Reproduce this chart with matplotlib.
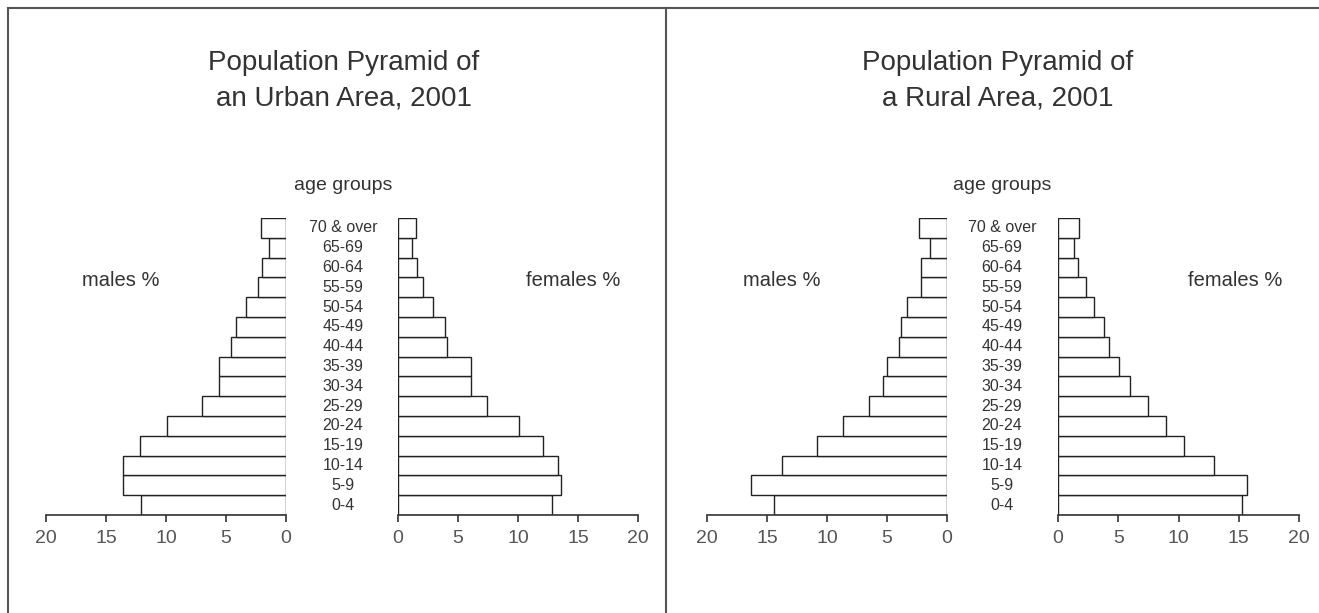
import matplotlib
matplotlib.use("Agg")
import matplotlib.pyplot as plt
from matplotlib.lines import Line2D

plt.rcParams['font.family'] = ['Liberation Sans', 'DejaVu Sans']

age_groups = ["0-4", "5-9", "10-14", "15-19", "20-24", "25-29", "30-34", "35-39",
              "40-44", "45-49", "50-54", "55-59", "60-64", "65-69", "70 & over"]

urban_males = [12.1, 13.6, 13.6, 12.2, 9.9, 7.0, 5.6, 5.6, 4.6, 4.2, 3.3, 2.3, 2.0, 1.4, 2.1]
urban_females = [12.8, 13.6, 13.3, 12.1, 10.1, 7.4, 6.1, 6.1, 4.1, 3.9, 2.9, 2.1, 1.6, 1.2, 1.5]
rural_males = [14.4, 16.3, 13.75, 10.8, 8.7, 6.5, 5.3, 5.0, 4.0, 3.8, 3.3, 2.2, 2.2, 1.45, 2.3]
rural_females = [15.3, 15.65, 12.95, 10.45, 8.95, 7.5, 5.95, 5.1, 4.2, 3.8, 2.96, 2.35, 1.7, 1.3, 1.72]

ticks = [0, 5, 10, 15, 20]
titles = ["Population Pyramid of\nan Urban Area, 2001",
          "Population Pyramid of\na Rural Area, 2001"]

W, H = 1319, 613
fig = plt.figure(figsize=(W / 100, H / 100), dpi=100)
TXT = '#333333'


def px_axes(x0, x1, y_top, y_bot):
    return fig.add_axes([x0 / W, (H - y_bot) / H, (x1 - x0) / W, (y_bot - y_top) / H])


def ftext(x, y, s, **kw):
    return fig.text(x / W, (H - y) / H, s, ha='center', va='center', color=TXT, **kw)


def pyramid_side(ax, values, left):
    ypos = list(range(len(values)))
    ax.barh(ypos, values, height=1.0, color='white', edgecolor='#222222', linewidth=1.0)
    ax.set_ylim(-0.5, len(values) - 0.5)
    if left:
        ax.set_xlim(20, 0)
    else:
        ax.set_xlim(0, 20)
    ax.set_xticks(ticks)
    ax.set_xticklabels([str(t) for t in ticks])
    ax.set_yticks([])
    for s in ['top', 'left', 'right']:
        ax.spines[s].set_visible(False)
    ax.spines['bottom'].set_color('#333333')
    ax.spines['bottom'].set_linewidth(1.2)
    ax.tick_params(axis='x', direction='out', length=5, width=1.2, color='#333333',
                   labelsize=14, labelcolor='#555555', pad=6)
    ax.patch.set_alpha(0)


panels = [
    (urban_males, urban_females, 46, 286, 398, 638, 343, 121, 573),
    (rural_males, rural_females, 707, 947, 1058, 1299, 1002, 782, 1235),
]

y_top, y_bot = 218, 515
for i, (m, f, mx0, mx1, fx0, fx1, cx, mlx, flx) in enumerate(panels):
    axm = px_axes(mx0, mx1, y_top, y_bot)
    pyramid_side(axm, m, True)
    axf = px_axes(fx0, fx1, y_top, y_bot)
    pyramid_side(axf, f, False)
    n = len(age_groups)
    for k, lab in enumerate(age_groups):
        yc = y_bot - (k + 0.5) * (y_bot - y_top) / n
        ftext(cx, yc, lab, fontsize=11.5)
    tx = cx + 1 if i == 0 else cx - 4
    ftext(tx, 81, titles[i], fontsize=20, linespacing=1.45)
    ftext(cx, 186, "age groups", fontsize=14)
    ftext(mlx, 281, "males %", fontsize=14.5)
    ftext(flx, 281, "females %", fontsize=14.5)

# frame lines
lc = '#555555'
fig.add_artist(Line2D([8 / W, 1], [(H - 8) / H, (H - 8) / H], color=lc, lw=1.5))
fig.add_artist(Line2D([8 / W, 8 / W], [0, (H - 8) / H], color=lc, lw=1.5))
fig.add_artist(Line2D([666 / W, 666 / W], [0, (H - 8) / H], color=lc, lw=1.5))

fig.savefig("out.png", dpi=100)
